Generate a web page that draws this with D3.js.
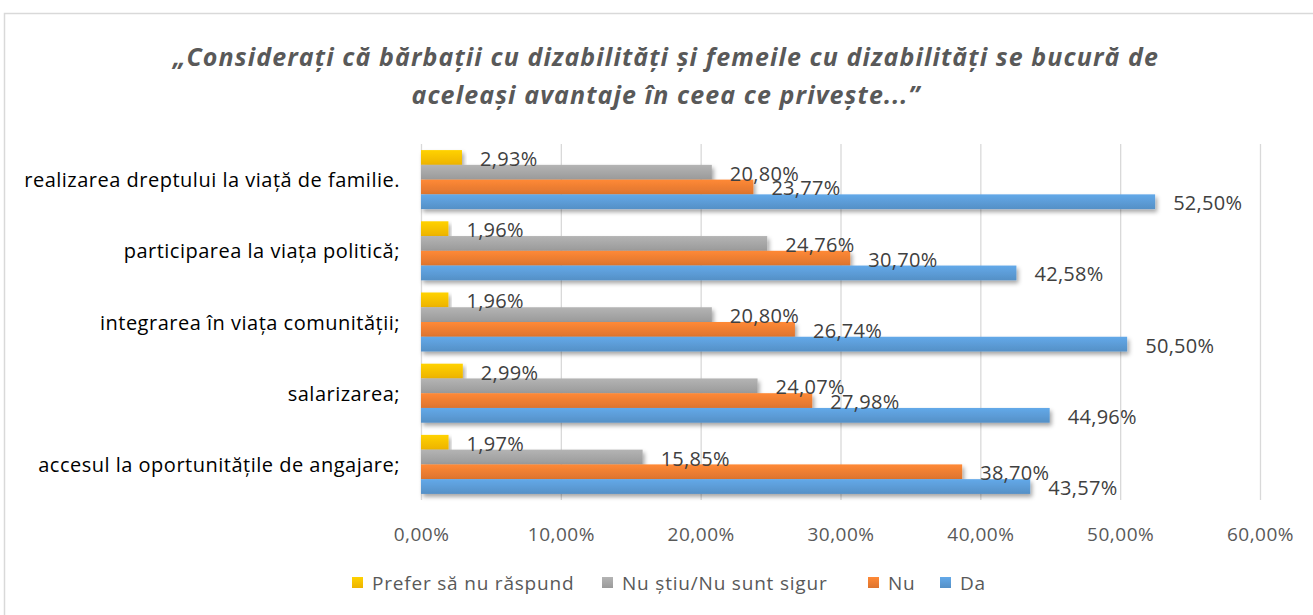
<!DOCTYPE html>
<html><head><meta charset="utf-8">
<script src="https://cdn.jsdelivr.net/npm/d3@7"></script>
<style>body{margin:0;background:#fff;overflow:hidden}svg{display:block}</style>
</head><body><svg id="c" width="1313" height="615"></svg>
<script>
const categories = ["realizarea dreptului la viață de familie.","participarea la viața politică;","integrarea în viața comunității;","salarizarea;","accesul la oportunitățile de angajare;"];
const seriesNames = ["Prefer să nu răspund","Nu știu/Nu sunt sigur","Nu","Da"];
const seriesColors = ["#FFC000","#A5A5A5","#ED7D31","#5B9BD5"];
const preferValues = [2.93,1.96,1.96,2.99,1.97];
const nuStiuValues = [20.80,24.76,20.80,24.07,15.85];
const nuValues = [23.77,30.70,26.74,27.98,38.70];
const daValues = [52.50,42.58,50.50,44.96,43.57];
const tickValues = [0,10,20,30,40,50,60];
const titleLines = ["„Considerați că bărbații cu dizabilități și femeile cu dizabilități se bucură de","aceleași avantaje în ceea ce privește...”"];

const allValues = [preferValues,nuStiuValues,nuValues,daValues];
const fmt = v => v.toFixed(2).replace(".",",")+"%";
const svg = d3.select("#c");
const defs = svg.append("defs");
const f = defs.append("filter").attr("id","sh").attr("x","-5%").attr("y","-50%").attr("width","115%").attr("height","250%");
f.append("feDropShadow").attr("dx",2).attr("dy",3).attr("stdDeviation",2).attr("flood-color","#000").attr("flood-opacity",0.35);
seriesColors.forEach((c,i)=>{
  const g = defs.append("linearGradient").attr("id","g"+i).attr("x1",0).attr("y1",0).attr("x2",0).attr("y2",1);
  g.append("stop").attr("offset","0%").attr("stop-color",d3.color(c).brighter(0.25));
  g.append("stop").attr("offset","100%").attr("stop-color",d3.color(c).darker(0.2));
});

svg.append("rect").attr("x",4.5).attr("y",13.5).attr("width",1330).attr("height",640).attr("fill","#fff").attr("stroke","#D9D9D9").attr("stroke-width",1.5);

const title = svg.append("g");
titleLines.forEach((t,i)=>{
  title.append("text").attr("x",666).attr("y",66+i*38).attr("text-anchor","middle")
    .attr("font-family","Open Sans").attr("font-style","italic").attr("font-weight","bold")
    .attr("font-size",25).attr("letter-spacing",1.1).attr("fill","#595959").text(t);
});

const x = d3.scaleLinear().domain([0,60]).range([421,1260]);
const y = d3.scaleBand().domain(categories).range([144,500]).paddingInner(0.171).paddingOuter(0.0855);
const ys = d3.scaleBand().domain(d3.range(4)).range([0,y.bandwidth()]);

const xAxis = d3.axisBottom(x).tickValues(tickValues).tickFormat(d=>d.toFixed(2).replace(".",",")+"%").tickSize(-(500-144)).tickPadding(0);
const ax = svg.append("g").attr("transform","translate(0,500)").call(xAxis);
ax.select(".domain").remove();
ax.selectAll(".tick line").attr("stroke","#D9D9D9").attr("stroke-width",1.3);
ax.selectAll(".tick text").attr("y",34).attr("dy",0).attr("dominant-baseline","central").attr("font-family","Open Sans").attr("font-size",19).attr("letter-spacing",0.5).attr("fill","#595959");

const bars = svg.append("g");
categories.forEach((cat,ci)=>{
  allValues.forEach((vals,si)=>{
    bars.append("rect").attr("x",x(0)).attr("y",y(cat)+ys(si)).attr("width",x(vals[ci])-x(0)).attr("height",ys.bandwidth())
      .attr("fill","url(#g"+si+")").attr("filter","url(#sh)");
  });
});
const labels = svg.append("g");
categories.forEach((cat,ci)=>{
  allValues.forEach((vals,si)=>{
    labels.append("text").attr("x",x(vals[ci])+18).attr("y",y(cat)+ys(si)+ys.bandwidth()/2+1)
      .attr("dominant-baseline","central").attr("font-family","Open Sans").attr("font-size",20).attr("letter-spacing",0.3).attr("fill","#404040").text(fmt(vals[ci]));
  });
  svg.append("text").attr("x",400).attr("y",y(cat)+y.bandwidth()/2).attr("text-anchor","end").attr("dominant-baseline","central")
    .attr("font-family","Open Sans").attr("font-size",20).attr("letter-spacing",0.5).attr("fill","#000").text(cat);
});

const legX = [352,602,868,940];
const leg = svg.append("g");
seriesNames.forEach((n,i)=>{
  leg.append("rect").attr("x",legX[i]).attr("y",577).attr("width",11).attr("height",11).attr("fill","url(#g"+i+")");
  leg.append("text").attr("x",legX[i]+20).attr("y",583).attr("dominant-baseline","central").attr("font-family","Open Sans").attr("font-size",19).attr("letter-spacing",0.8).attr("fill","#595959").text(n);
});
</script></body></html>
